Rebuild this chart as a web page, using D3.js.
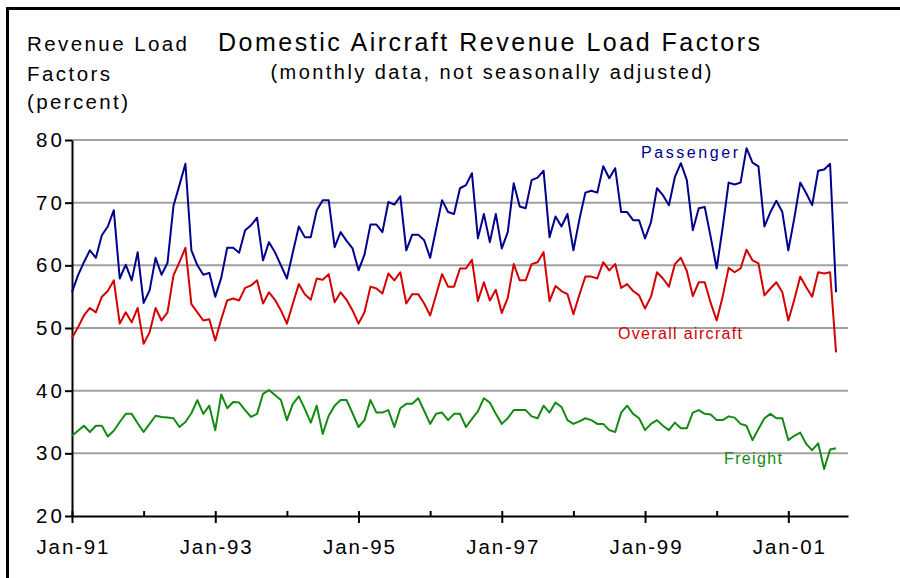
<!DOCTYPE html>
<html>
<head>
<meta charset="utf-8">
<script src="https://cdn.jsdelivr.net/npm/d3@7"></script>
<style>
    body { margin: 0; background: #fff; }
    svg { display: block; font-family: "Liberation Sans", Arial, sans-serif; }
</style>
</head>
<body>
<div id="chart"></div>
<script>
// Monthly values, Jan 1991 (index 0) through Sep 2001 (index 128)
var passenger = [
    55.7, 58.4, 60.5, 62.4, 61.2, 64.8, 66.2, 68.8, 57.9, 60.1, 57.6, 62.1,
    54.0, 56.0, 61.2, 58.5, 60.4, 69.5, 72.8, 76.2, 62.4, 60.0, 58.5, 58.8,
    55.0, 58.0, 62.8, 62.8, 62.0, 65.6, 66.4, 67.6, 60.8, 63.7, 62.1, 60.0,
    57.9, 62.1, 66.2, 64.5, 64.5, 68.8, 70.4, 70.4, 62.9, 65.3, 63.9, 62.7,
    59.2, 61.7, 66.5, 66.5, 65.3, 70.1, 69.7, 71.0, 62.4, 64.9, 64.9, 64.0,
    61.2, 65.8, 70.4, 68.5, 68.2, 72.3, 72.8, 74.7, 64.3, 68.2, 63.7, 68.2,
    62.7, 65.3, 73.1, 69.4, 69.1, 73.6, 74.0, 75.1, 64.5, 67.8, 66.2, 68.2,
    62.4, 67.3, 71.6, 71.9, 71.6, 75.8, 73.9, 75.5, 68.5, 68.5, 67.2, 67.2,
    64.3, 66.9, 72.3, 71.2, 69.6, 74.1, 76.3, 73.6, 65.6, 69.1, 69.3, 64.5,
    59.5, 66.0, 73.2, 72.9, 73.2, 78.7, 76.4, 75.8, 66.2, 68.5, 70.3, 68.5,
    62.4, 67.5, 73.2, 71.5, 69.6, 75.1, 75.3, 76.2, 55.7
];
var overall = [
    48.4, 50.1, 52.0, 53.2, 52.5, 55.0, 55.9, 57.6, 50.7, 52.5, 50.9, 53.2,
    47.5, 49.3, 53.2, 51.2, 52.5, 58.4, 60.5, 62.8, 53.8, 52.5, 51.2, 51.4,
    48.0, 51.4, 54.4, 54.7, 54.4, 56.4, 56.8, 57.6, 53.9, 55.7, 54.5, 52.8,
    50.7, 53.9, 57.0, 55.4, 54.5, 57.9, 57.7, 58.6, 54.1, 55.7, 54.5, 52.8,
    50.7, 52.5, 56.6, 56.3, 55.5, 58.7, 57.6, 58.9, 53.9, 55.4, 55.4, 53.9,
    52.0, 55.3, 58.6, 56.6, 56.6, 59.5, 59.5, 60.9, 54.3, 57.3, 54.4, 56.1,
    52.4, 54.8, 60.2, 57.6, 57.6, 60.2, 60.5, 62.1, 54.3, 56.7, 55.9, 55.4,
    52.2, 55.3, 58.2, 58.2, 57.9, 60.5, 59.2, 60.2, 56.4, 57.0, 55.9, 55.2,
    53.1, 55.0, 58.9, 57.9, 56.6, 60.2, 61.2, 59.1, 55.1, 57.3, 57.3, 54.0,
    51.2, 55.0, 59.6, 58.9, 59.5, 62.5, 60.8, 60.3, 55.2, 56.3, 57.3, 55.7,
    51.2, 54.5, 58.2, 56.5, 55.0, 58.9, 58.7, 58.9, 46.1
];
var freight = [
    32.8, 33.6, 34.4, 33.4, 34.4, 34.4, 32.7, 33.6, 35.0, 36.3, 36.3, 34.8,
    33.4, 34.7, 36.0, 35.8, 35.7, 35.6, 34.2, 35.0, 36.4, 38.5, 36.3, 37.6,
    33.7, 39.4, 37.2, 38.2, 38.1, 36.9, 35.8, 36.3, 39.5, 40.1, 39.3, 38.5,
    35.3, 37.9, 39.1, 37.1, 34.9, 37.6, 33.1, 36.0, 37.6, 38.5, 38.5, 36.4,
    34.2, 35.3, 38.5, 36.5, 36.5, 36.9, 34.2, 37.2, 37.9, 37.9, 38.8, 36.8,
    34.7, 36.3, 36.5, 35.3, 36.3, 36.3, 34.2, 35.5, 36.7, 38.8, 38.1, 36.3,
    34.7, 35.6, 36.9, 36.9, 36.9, 35.9, 35.6, 37.6, 36.5, 38.1, 37.4, 35.3,
    34.7, 35.1, 35.6, 35.3, 34.7, 34.7, 33.7, 33.4, 36.5, 37.6, 36.3, 35.6,
    33.7, 34.7, 35.3, 34.4, 33.7, 34.9, 34.0, 34.0, 36.5, 36.9, 36.3, 36.2,
    35.3, 35.3, 35.9, 35.7, 34.7, 34.4, 32.1, 33.9, 35.6, 36.3, 35.6, 35.6,
    32.1, 32.8, 33.3, 31.5, 30.5, 31.6, 27.5, 30.6, 30.8
];

var seriesNames = ["Passenger", "Overall aircraft", "Freight"];
var yTicks = [20, 30, 40, 50, 60, 70, 80];
var xTickMonths = [0, 12, 24, 36, 48, 60, 72, 84, 96, 108, 120];   // every January
var xLabels = ["Jan-91", "Jan-93", "Jan-95", "Jan-97", "Jan-99", "Jan-01"];

var width = 900, height = 578;

// Plot box
var plot = {left: 72, right: 848, top: 140, bottom: 516};

var x = d3.scaleLinear().domain([0, 130]).range([plot.left, plot.right]);
var y = d3.scaleLinear().domain([20, 80]).range([plot.bottom, plot.top]);

var svg = d3.select("#chart")
    .append("svg")
    .attr("width", width)
    .attr("height", height);

// Frame on top and left edge
svg.append("path")
    .attr("d", "M7.5," + height + "V8.5H" + width)
    .attr("fill", "none")
    .attr("stroke", "#000")
    .attr("stroke-width", 3);

// Helper for the stretched-out lettering of the original
function label(txt, x0, y0, size, len, anchor, color) {
    return svg.append("text")
        .attr("x", x0)
        .attr("y", y0)
        .attr("font-size", size)
        .attr("text-anchor", anchor || "start")
        .attr("fill", color || "#000")
        .attr("textLength", len)
        .attr("lengthAdjust", "spacing")
        .text(txt);
}

// Titles
label("Domestic Aircraft Revenue Load Factors", 489, 51, 25, 542, "middle");
label("(monthly data, not seasonally adjusted)", 491, 79, 20, 441, "middle");

// Y axis title
label("Revenue Load", 27, 51, 20.5, 160);
label("Factors", 27, 81, 20.5, 83);
label("(percent)", 27, 109, 20.5, 101);

// Gridlines
svg.append("g")
    .selectAll("line")
    .data(yTicks.slice(1))
    .enter()
    .append("line")
    .attr("x1", plot.left)
    .attr("x2", plot.right)
    .attr("y1", function (d) { return y(d); })
    .attr("y2", function (d) { return y(d); })
    .attr("stroke", "#a0a0a0")
    .attr("stroke-width", 2);

// Y axis
var yAxis = svg.append("g")
    .attr("transform", "translate(" + plot.left + ",0)")
    .call(d3.axisLeft(y).tickValues(yTicks).tickSize(7).tickSizeOuter(0).tickPadding(3));

// X axis, labels every other January
var xAxis = svg.append("g")
    .attr("transform", "translate(0," + plot.bottom + ")")
    .call(d3.axisBottom(x)
        .tickValues(xTickMonths)
        .tickSize(7)
        .tickSizeOuter(0)
        .tickPadding(16)
        .tickFormat(function (d) { return d % 24 === 0 ? xLabels[d / 24] : ""; }));

xAxis.selectAll(".tick line")
    .attr("y1", -5)
    .attr("y2", function (d) { return d % 24 === 0 ? 7 : 0; });

[yAxis, xAxis].forEach(function (ax) {
    ax.select(".domain").attr("stroke", "#000").attr("stroke-width", 2);
    ax.selectAll(".tick line").attr("stroke", "#000").attr("stroke-width", 2);
    ax.selectAll(".tick text")
        .attr("font-size", 20.5)
        .attr("font-family", "\"Liberation Sans\", Arial, sans-serif")
        .attr("fill", "#000");
});
xAxis.selectAll(".tick text").attr("textLength", 72).attr("lengthAdjust", "spacing");
yAxis.selectAll(".tick text").attr("textLength", 26).attr("lengthAdjust", "spacing");

// Series lines
var line = d3.line()
    .x(function (d, i) { return x(i); })
    .y(function (d) { return y(d); });

var series = [
    {name: seriesNames[0], values: passenger, color: "#00008c"},
    {name: seriesNames[1], values: overall, color: "#d40000"},
    {name: seriesNames[2], values: freight, color: "#138a13"}
];

svg.append("g")
    .selectAll("path")
    .data(series)
    .enter()
    .append("path")
    .attr("d", function (d) { return line(d.values); })
    .attr("fill", "none")
    .attr("stroke", function (d) { return d.color; })
    .attr("stroke-width", 2)
    .attr("stroke-linejoin", "round");

// Series labels
label(series[0].name, 641, 158, 16, 97, "start", series[0].color);
label(series[1].name, 618, 339, 16, 124, "start", series[1].color);
label(series[2].name, 724, 464, 16, 58, "start", series[2].color);
</script>
</body>
</html>
